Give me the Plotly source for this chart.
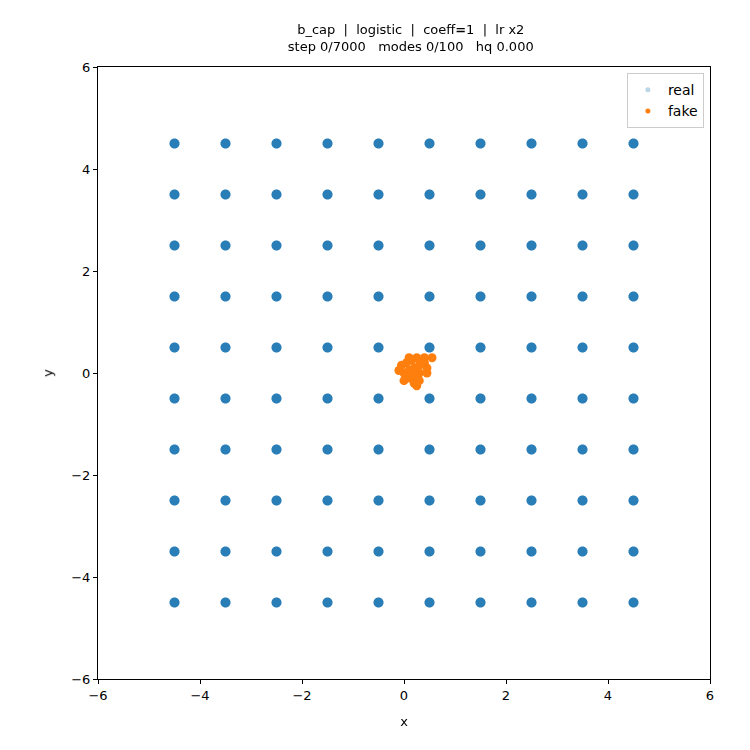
import plotly.graph_objects as go

centers = [-4.5, -3.5, -2.5, -1.5, -0.5, 0.5, 1.5, 2.5, 3.5, 4.5]
real_x = [cx for cx in centers for cy in centers]
real_y = [cy for cx in centers for cy in centers]

fake_x = [0.0, 0.1, 0.2, 0.3, 0.4, 0.05, 0.15, 0.25, 0.35, 0.1, 0.2, 0.3, 0.0, 0.2, 0.45, 0.55, -0.05, 0.1, 0.3, 0.4, 0.45, -0.1, 0.25]
fake_y = [0.0, 0.05, 0.1, 0.15, 0.2, 0.2, 0.25, 0.3, 0.25, -0.1, -0.05, 0.0, -0.15, -0.2, 0.1, 0.3, 0.15, 0.3, -0.15, 0.3, 0.0, 0.05, -0.25]

fig = go.Figure()
fig.add_trace(go.Scattergl(x=real_x, y=real_y, mode="markers", showlegend=False,
                           marker=dict(color="#1f77b4", size=10, opacity=0.95)))
fig.add_trace(go.Scatter(x=fake_x, y=fake_y, mode="markers", showlegend=False,
                         marker=dict(color="#ff7f0e", size=9)))
fig.add_trace(go.Scatter(x=[None], y=[None], mode="markers", name="real",
                         marker=dict(color="#1f77b4", size=5, opacity=0.3)))
fig.add_trace(go.Scatter(x=[None], y=[None], mode="markers", name="fake",
                         marker=dict(color="#ff7f0e", size=5)))

axis = dict(range=[-6, 6], dtick=2, showgrid=False, zeroline=False, showline=True,
            linecolor="black", linewidth=1, mirror=True, ticks="outside", ticklen=4,
            tickcolor="black", tickfont=dict(size=13, color="black"))
fig.update_layout(
    width=750, height=750, plot_bgcolor="white", paper_bgcolor="white",
    font=dict(family="DejaVu Sans", color="black"),
    title=dict(text="b_cap  |  logistic  |  coeff=<b>=</b>1  |  lr x2<br>step 0/7000   modes 0/100   hq 0.000".replace("<b>=</b>1", "1").replace("coeff=1", "coeff<b>=</b>1"),
               x=0.537, xanchor="center", y=0.965, yanchor="top", font=dict(size=13)),
    margin=dict(l=90, r=48, t=59, b=79),
    xaxis=dict(axis, title=dict(text="x", font=dict(size=13))),
    yaxis=dict(axis, title=dict(text="y", font=dict(size=13))),
    legend=dict(x=0.99, y=0.99, xanchor="right", yanchor="top", bordercolor="#cccccc",
                borderwidth=1, font=dict(size=14), bgcolor="white"),
)
fig.write_html("out.html")
